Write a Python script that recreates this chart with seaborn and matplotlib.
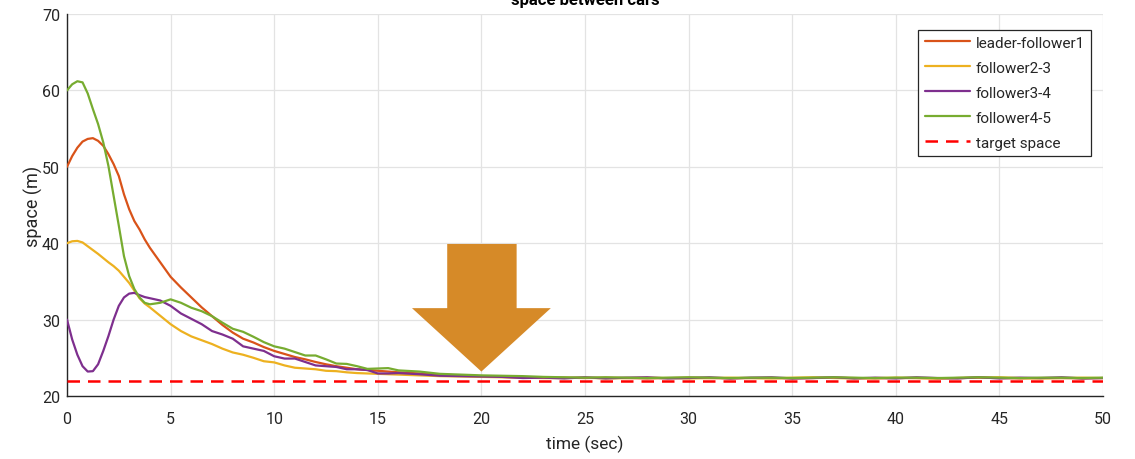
import numpy as np
import pandas as pd
import matplotlib
matplotlib.use("Agg")
import matplotlib.pyplot as plt
from matplotlib.patches import Polygon
import seaborn as sns

# ---------------- data ----------------
time_early = [0, 0.25, 0.5, 0.75, 1, 1.25, 1.5, 1.75, 2, 2.25, 2.5, 2.75, 3, 3.25, 3.5, 3.75, 4]
time_mid = [4.5, 5, 5.5, 6, 6.5, 7, 7.5, 8, 8.5, 9, 9.5, 10, 10.5, 11, 11.5, 12,
            12.5, 13, 13.5, 14, 14.5, 15, 15.5, 16]
time_late = list(range(17, 51))
time_s = time_early + time_mid + time_late

leader_follower1 = [50.0, 51.4, 52.5, 53.3, 53.65, 53.75, 53.4, 52.75, 51.65, 50.35, 48.8,
                    46.4, 44.45, 42.9, 41.8, 40.5, 39.4,
                    37.5, 35.6, 34.2, 32.9, 31.6, 30.45, 29.3, 28.3, 27.5, 27.0, 26.4, 25.9,
                    25.5, 25.1, 24.8, 24.45, 24.15, 23.9, 23.7, 23.5, 23.4, 23.3, 23.2, 23.1,
                    22.95, 22.8, 22.7, 22.6, 22.5, 22.45, 22.4, 22.4, 22.35, 22.4, 22.35, 22.3,
                    22.35, 22.4, 22.35, 22.3, 22.35, 22.35, 22.3, 22.35, 22.4, 22.35, 22.3,
                    22.35, 22.35, 22.3, 22.35, 22.4, 22.35, 22.3, 22.35, 22.35, 22.3, 22.35]
follower2_3 = [40.0, 40.25, 40.3, 40.1, 39.6, 39.1, 38.6, 38.05, 37.5, 37.0, 36.4, 35.6,
               34.8, 33.8, 32.8, 32.1, 31.6,
               30.5, 29.4, 28.5, 27.8, 27.3, 26.8, 26.2, 25.7, 25.4, 25.0, 24.55, 24.4,
               24.0, 23.7, 23.6, 23.5, 23.3, 23.25, 23.1, 23.0, 22.95, 22.9, 22.85, 22.8,
               22.7, 22.6, 22.55, 22.5, 22.45, 22.4, 22.35, 22.35, 22.4, 22.3, 22.35, 22.4,
               22.35, 22.3, 22.35, 22.4, 22.35, 22.3, 22.4, 22.45, 22.35, 22.3, 22.35,
               22.4, 22.35, 22.3, 22.35, 22.4, 22.45, 22.35, 22.3, 22.35, 22.4, 22.35]
follower3_4 = [30.0, 27.4, 25.4, 23.9, 23.2, 23.25, 24.15, 25.9, 27.85, 30.0, 31.8, 32.9,
               33.4, 33.5, 33.2, 32.95, 32.8,
               32.5, 31.8, 30.8, 30.1, 29.4, 28.5, 28.05, 27.5, 26.5, 26.2, 25.9, 25.2,
               24.9, 24.9, 24.45, 24.0, 23.9, 23.8, 23.5, 23.5, 23.4, 22.95, 22.95, 23.0,
               22.85, 22.65, 22.6, 22.55, 22.5, 22.35, 22.4, 22.3, 22.45, 22.3, 22.4, 22.45,
               22.3, 22.35, 22.45, 22.3, 22.4, 22.45, 22.3, 22.35, 22.45, 22.3, 22.4,
               22.3, 22.45, 22.35, 22.3, 22.45, 22.3, 22.4, 22.35, 22.45, 22.3, 22.35]
follower4_5 = [60.0, 60.8, 61.2, 61.05, 59.6, 57.55, 55.6, 53.2, 50.1, 46.2, 42.3, 38.3,
               35.7, 34.0, 32.9, 32.2, 32.0,
               32.2, 32.65, 32.2, 31.55, 31.1, 30.45, 29.6, 28.8, 28.4, 27.75, 27.05, 26.5,
               26.2, 25.75, 25.3, 25.3, 24.8, 24.25, 24.2, 23.9, 23.55, 23.6, 23.65, 23.35,
               23.2, 22.9, 22.8, 22.7, 22.65, 22.6, 22.5, 22.45, 22.4, 22.45, 22.4, 22.35,
               22.4, 22.45, 22.4, 22.35, 22.4, 22.4, 22.35, 22.4, 22.45, 22.4, 22.35,
               22.4, 22.4, 22.35, 22.4, 22.45, 22.4, 22.35, 22.4, 22.4, 22.35, 22.4]
target_space = 22.0
target_x = [0, 50]

series_names = ["leader-follower1", "follower2-3", "follower3-4", "follower4-5"]
series_values = [leader_follower1, follower2_3, follower3_4, follower4_5]
series_colors = ["#D95319", "#EDB120", "#7E2F8E", "#77AC30"]

x_ticks = list(range(0, 51, 5))
y_ticks = list(range(20, 71, 10))

# arrow annotation geometry (data units)
arrow_shaft_x = (18.35, 21.7)
arrow_top_y = 39.9
arrow_head_y = 31.5
arrow_head_x = (16.65, 23.35)
arrow_tip = (20.0, 23.2)
arrow_color = "#D68A28"

# ---------------- plot ----------------
sns.set_theme(style="white")
plt.rcParams["font.family"] = ["Roboto", "DejaVu Sans"]

fig = plt.figure(figsize=(11.35, 4.6), dpi=100)
ax = fig.add_axes([67 / 1135, 1 - 397 / 460, (1103 - 67) / 1135, (397 - 15) / 460])

frames = []
for name, vals in zip(series_names, series_values):
    frames.append(pd.DataFrame({"time": time_s, "space": vals, "series": name}))
df = pd.concat(frames, ignore_index=True)

sns.lineplot(data=df, x="time", y="space", hue="series", hue_order=series_names,
             palette=dict(zip(series_names, series_colors)), linewidth=1.6,
             ax=ax, legend=False, sort=False, estimator=None, zorder=3)
sns.lineplot(x=target_x, y=[target_space] * len(target_x), color="#FF0000",
             linewidth=1.8, ax=ax, zorder=4)
ax.lines[-1].set_dashes((5.0, 3.2))

# arrow
verts = [(arrow_shaft_x[0], arrow_top_y), (arrow_shaft_x[1], arrow_top_y),
         (arrow_shaft_x[1], arrow_head_y), (arrow_head_x[1], arrow_head_y),
         arrow_tip, (arrow_head_x[0], arrow_head_y), (arrow_shaft_x[0], arrow_head_y)]
ax.add_patch(Polygon(verts, closed=True, facecolor=arrow_color, edgecolor="none", zorder=5))

ax.set_xlim(0, 50)
ax.set_ylim(20, 70)
ax.set_xticks(x_ticks)
ax.set_yticks(y_ticks)
ax.grid(True, color="#E3E3E3", linewidth=0.9)
ax.set_axisbelow(True)
for s in ["top", "right"]:
    ax.spines[s].set_visible(False)
for s in ["left", "bottom"]:
    ax.spines[s].set_color("#262626")
    ax.spines[s].set_linewidth(1.0)
ax.tick_params(axis="both", direction="in", length=7, width=0.9, color="#262626",
               labelsize=11.5, labelcolor="#262626")
ax.tick_params(axis="x", pad=10.5)
ax.tick_params(axis="y", pad=5)
ax.set_xlabel("time (sec)", fontsize=12.5, color="#262626", labelpad=6.5)
ax.set_ylabel("space (m)", fontsize=13, color="#262626", labelpad=-1)

fig.text(585 / 1135, 1 - 4.5 / 460, "space between cars", ha="center", va="baseline",
         fontsize=12, fontweight="bold", color="black")

handles = ax.get_lines()
leg = ax.legend(handles, series_names + ["target space"], loc="upper right",
                bbox_to_anchor=((1091 - 67) / 1036, 1 - (30.7 - 15) / 382),
                borderaxespad=0, fontsize=11, frameon=True, fancybox=False,
                framealpha=1, edgecolor="#262626", handlelength=3.0,
                handletextpad=0.35, labelspacing=0.72, borderpad=0.4)
leg.get_frame().set_linewidth(0.9)
leg.set_zorder(10)

fig.savefig("out.png", dpi=100)
